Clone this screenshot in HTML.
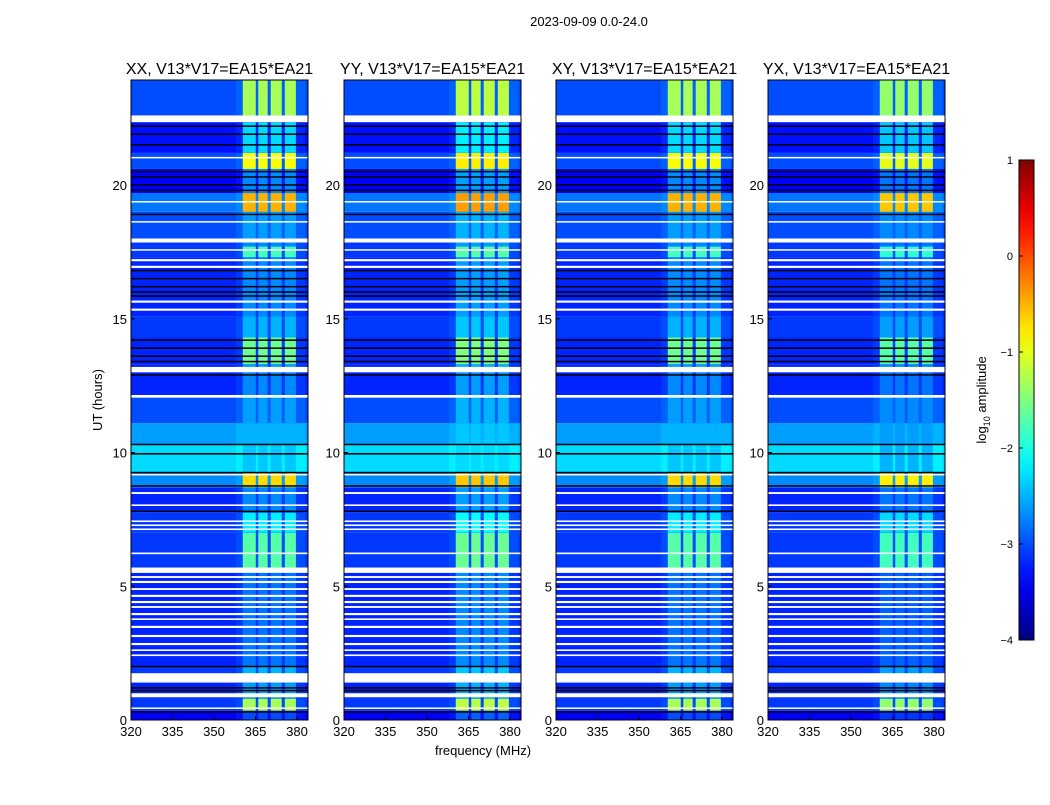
<!DOCTYPE html>
<html><head><meta charset="utf-8"><style>
body{margin:0;background:#fff;font-family:"Liberation Sans",sans-serif}
svg text{font-family:"Liberation Sans",sans-serif}
</style></head><body>
<svg id="fig" width="1050" height="800" viewBox="0 0 1050 800">
<rect width="1050" height="800" fill="#fff"/>
<text x="589" y="26" font-size="13" text-anchor="middle">2023-09-09 0.0-24.0</text>
<text x="483" y="755" font-size="13" text-anchor="middle">frequency (MHz)</text>
<text transform="translate(102,400) rotate(-90)" font-size="13" text-anchor="middle">UT (hours)</text>
<g id="panels"></g>
<g id="cbar"></g>
</svg>
<script>
// ---- data ----
const panelTitles = ["XX, V13*V17=EA15*EA21","YY, V13*V17=EA15*EA21","XY, V13*V17=EA15*EA21","YX, V13*V17=EA15*EA21"];
const xTicks = [320,335,350,365,380];
const yTicks = [0,5,10,15,20];
// time segments (hours) with background and band log-amplitudes
const segStart = [0.0,0.35,0.8,1.4,2.0,5.5,5.7,7.0,7.75,8.7,9.25,10.3,11.1,12.15,13.0,13.3,14.3,15.1,17.3,17.7,18.0,19.0,19.7,20.6,21.2,22.35,22.6];
const segEnd   = [0.35,0.8,1.4,2.0,5.5,5.7,7.0,7.75,8.7,9.25,10.3,11.1,12.15,13.0,13.3,14.3,15.1,17.3,17.7,18.0,19.0,19.7,20.6,21.2,22.35,22.6,23.95];
const bgLevel  = [-3.4,-3.1,-3.2,-3.1,-3.2,-3.2,-3.1,-3.1,-3.2,-2.7,-2.3,-2.6,-3.0,-3.2,-3.2,-3.2,-3.1,-3.2,-3.1,-3.1,-3.0,-2.8,-3.4,-3.0,-3.3,-3.2,-3.0];
const bandLevel= [-3.0,-1.3,-2.6,-2.5,-2.8,-2.8,-1.7,-2.2,-2.7,-0.7,-2.4,-2.5,-2.6,-2.7,-2.6,-1.6,-2.5,-2.7,-1.8,-2.7,-2.6,-0.5,-2.7,-0.9,-2.3,-2.2,-1.3];
const panelBandShift = [0.0,0.1,0.0,-0.1];
// sub-band edges (MHz)
const bandLo = [360.4,366.0,370.5,375.6];
const bandHi = [365.1,369.4,374.5,379.6];
// flagged (white) rows: [start,end] hours
const whiteStart = [0.42,0.85,1.4,2.39,2.58,2.8,3.1,3.44,3.74,3.92,4.19,4.37,4.6,4.86,5.12,5.31,5.5,6.2,7.1,7.25,7.4,8.0,8.45,9.15,12.05,13.0,15.3,15.6,16.9,17.15,17.55,17.85,18.6,19.35,21.0,22.35];
const whiteEnd   = [0.47,1.0,1.75,2.45,2.64,2.88,3.18,3.52,3.8,4.0,4.26,4.45,4.68,4.93,5.2,5.38,5.7,6.26,7.16,7.31,7.46,8.06,8.52,9.2,12.15,13.2,15.38,15.68,16.98,17.23,17.6,18.0,18.65,19.4,21.05,22.6];
// black rows (hours)
const blackRows = [0.3,1.1,1.2,2.0,7.8,8.75,9.25,9.95,10.3,12.9,13.4,13.6,13.9,14.2,15.85,16.0,16.2,16.5,16.8,18.9,19.8,20.0,20.3,20.5,21.5,21.9,22.2];
// colorbar
const cbTicks = [1,0,-1,-2,-3,-4];
const cbMin=-4, cbMax=1;

// ---- helpers ----
const NS="http://www.w3.org/2000/svg";
function mk(tag,attrs,parent){const e=document.createElementNS(NS,tag);for(const k in attrs)e.setAttribute(k,attrs[k]);parent.appendChild(e);return e;}
function jet(v){let t=(v-cbMin)/(cbMax-cbMin);t=Math.max(0,Math.min(1,t));
 const c=x=>Math.round(255*Math.max(0,Math.min(1,x)));
 const r=1.5-Math.abs(4*t-3), g=1.5-Math.abs(4*t-2), b=1.5-Math.abs(4*t-1);
 return `rgb(${c(r)},${c(g)},${c(b)})`;}
const panelX=[131,344,556,768], panelW=177, pTop=80, pBot=720;
const pxPerHour=26.75, pxPerMHz=41.5/15;
const yS=h=>Math.max(pTop,pBot-h*pxPerHour);
const panels=document.getElementById('panels');
panelTitles.forEach((title,p)=>{
 const x0=panelX[p];
 const xS=f=>x0+(f-320)*pxPerMHz;
 const g=mk('g',{},panels);
 
 
 const t=mk('text',{x:x0+panelW/2,y:74,'font-size':16,'text-anchor':'middle'},g);t.textContent=title;
 
 
 segStart.forEach((s,i)=>{
  const y1=yS(segEnd[i]), y2=yS(s);
  const r=mk('rect',{x:x0,y:y1,width:panelW,height:y2-y1,fill:jet(bgLevel[i])},g);
  
  
  const rr=mk('rect',{x:xS(358),y:y1,width:xS(383)-xS(358),height:y2-y1,fill:jet(bgLevel[i]+0.1)},g);
  
  
  bandLo.forEach((lo,j)=>{
   const b=mk('rect',{x:xS(lo),y:y1,width:xS(bandHi[j])-xS(lo),height:y2-y1,fill:jet(bandLevel[i]+panelBandShift[p])},g);
   
   
  });
 });
 whiteStart.forEach((s,i)=>{
  const y1=yS(whiteEnd[i]),y2=yS(s);
  const w=mk('rect',{x:x0,y:y1,width:panelW,height:Math.max(1.5,y2-y1),fill:'#fff'},g);
  
  
 });
 blackRows.forEach(h=>{
  const l=mk('rect',{x:x0,y:yS(h)-0.75,width:panelW,height:1.5,fill:'#000'},g);
  
  
 });
 const fr=mk('rect',{x:x0,y:pTop,width:panelW,height:pBot-pTop,fill:'none',stroke:'#000','stroke-width':1},g);
 
 
 xTicks.forEach(v=>{
  const tx=mk('text',{x:xS(v),y:736,'font-size':13,'text-anchor':'middle'},g);tx.textContent=v;
  
  
  mk('line',{x1:xS(v),x2:xS(v),y1:pBot,y2:pBot-4,stroke:'#000'},g);
 });
 yTicks.forEach(v=>{
  const ty=mk('text',{x:x0-4,y:yS(v)+5,'font-size':13,'text-anchor':'end'},g);ty.textContent=v;
  
  
  mk('line',{x1:x0,x2:x0+4,y1:yS(v),y2:yS(v),stroke:'#000'},g);
 });
});
// colorbar
const cb=document.getElementById('cbar');


const cx=1019,cw=15,cTop=160,cBot=640;
const defs=mk('defs',{},cb);
const grad=mk('linearGradient',{id:'jetg',x1:0,y1:1,x2:0,y2:0},defs);
for(let i=0;i<=20;i++){mk('stop',{offset:i/20,'stop-color':jet(cbMin+(cbMax-cbMin)*i/20)},grad);}
mk('rect',{x:cx,y:cTop,width:cw,height:cBot-cTop,fill:'url(#jetg)',stroke:'#000'},cb);
const cyS=v=>cBot-(v-cbMin)/(cbMax-cbMin)*(cBot-cTop);
cbTicks.forEach(v=>{
 const t=mk('text',{x:1013,y:cyS(v)+4,'font-size':11,'text-anchor':'end'},cb);t.textContent=(v<0?'\u2212'+(-v):v);
 
 
 mk('line',{x1:cx,x2:cx+4,y1:cyS(v),y2:cyS(v),stroke:'#000'},cb);
});
const cl=mk('text',{transform:'translate(986,400) rotate(-90)','font-size':13,'text-anchor':'middle'},cb);
cl.innerHTML='log<tspan font-size="9" dy="4">10</tspan><tspan dy="-4"> amplitude</tspan>';


</script>
</body></html>
